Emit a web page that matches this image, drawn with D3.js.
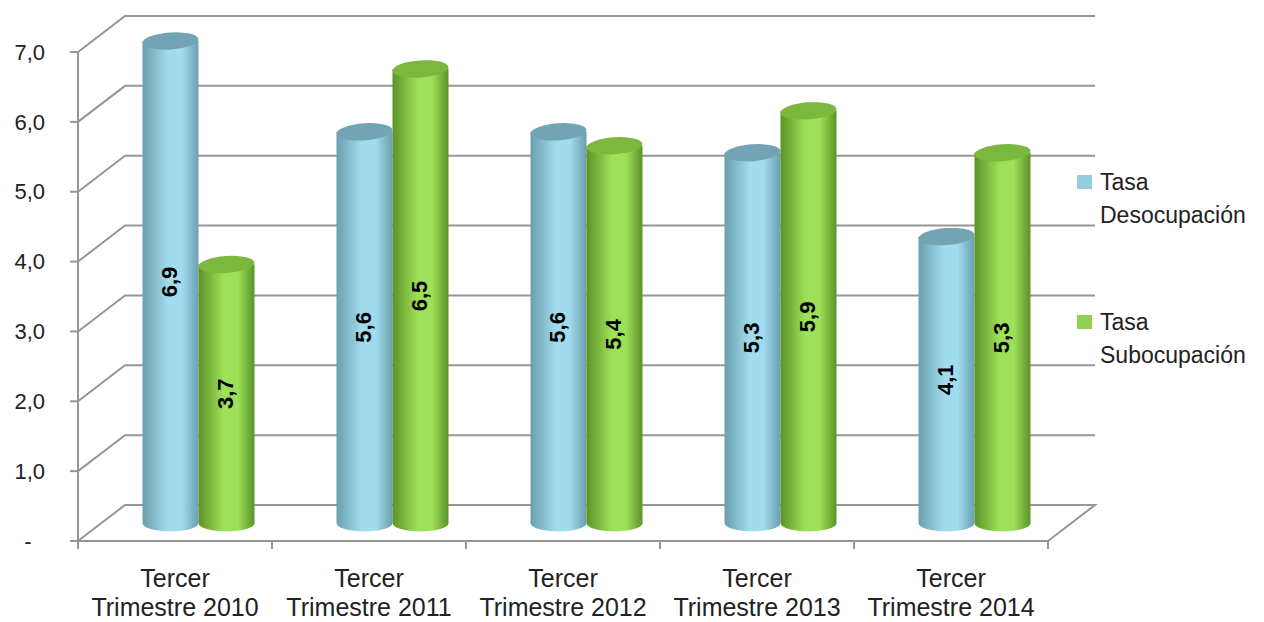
<!DOCTYPE html>
<html>
<head>
<meta charset="utf-8">
<script src="https://cdn.jsdelivr.net/npm/d3@7"></script>
<style>
  body { margin: 0; background: #fff; }
</style>
</head>
<body>
<div id="chart"></div>
<script>
var w = 1264;
var h = 622;

var categories = ["2010", "2011", "2012", "2013", "2014"];
var seriesNames = ["Tasa Desocupación", "Tasa Subocupación"];
var desocupacion = [6.9, 5.6, 5.6, 5.3, 4.1];
var subocupacion = [3.7, 6.5, 5.4, 5.9, 5.3];
var yTicks = [0, 1, 2, 3, 4, 5, 6, 7];

var font = "Liberation Sans, Arial, sans-serif";
var gridColor = "#969696";
var depthX = 47;
var depthY = -36;

var svg = d3.select("#chart")
    .append("svg")
    .attr("width", w)
    .attr("height", h)
    .style("background-color", "white");

var yScale = d3.scaleLinear()
    .domain([0, 7])
    .range([541, 52]);

var xScale = d3.scaleBand()
    .domain(categories)
    .range([78, 1048]);

var xSub = d3.scaleBand()
    .domain(seriesNames)
    .range([-56, 56]);

var colors = {
    "Tasa Desocupación": { dark: "#6a9fae", light: "#a0dbee", top: "#73a4b3", key: "#93cddd" },
    "Tasa Subocupación": { dark: "#5c9327", light: "#9ee158", top: "#7cb83e", key: "#92d050" }
};

// gradients for cylinder bodies
var defs = svg.append("defs");
seriesNames.forEach(function (s, i) {
    var g = defs.append("linearGradient")
        .attr("id", "grad" + i)
        .attr("x1", "0%").attr("x2", "100%")
        .attr("y1", "0%").attr("y2", "0%");
    g.append("stop").attr("offset", "0%").attr("stop-color", colors[s].dark);
    g.append("stop").attr("offset", "45%").attr("stop-color", colors[s].light);
    g.append("stop").attr("offset", "70%").attr("stop-color", colors[s].light);
    g.append("stop").attr("offset", "100%").attr("stop-color", colors[s].dark);
});

var x0 = xScale.range()[0];
var x1 = xScale.range()[1];

// back wall gridlines + left wall diagonals
var grid = svg.append("g");
yTicks.forEach(function (t) {
    var y = yScale(t);
    var pts = t === 0
        ? [[x0, y], [x0 + depthX, y + depthY], [x1 + depthX, y + depthY], [x1, y]]
        : [[x0, y], [x0 + depthX, y + depthY], [x1 + depthX, y + depthY]];
    grid.append("path")
        .attr("d", d3.line()(pts))
        .attr("fill", "none")
        .attr("stroke", gridColor)
        .attr("stroke-width", 2);
});

// front axes
svg.append("line")
    .attr("x1", x0).attr("x2", x0)
    .attr("y1", yScale(7)).attr("y2", yScale(0))
    .attr("stroke", gridColor).attr("stroke-width", 2);
svg.append("line")
    .attr("x1", x0).attr("x2", x1)
    .attr("y1", yScale(0)).attr("y2", yScale(0))
    .attr("stroke", gridColor).attr("stroke-width", 2);

// y tick marks and labels
yTicks.forEach(function (t) {
    svg.append("line")
        .attr("x1", x0 - 8).attr("x2", x0)
        .attr("y1", yScale(t)).attr("y2", yScale(t))
        .attr("stroke", gridColor).attr("stroke-width", 2);
    svg.append("text")
        .attr("x", t === 0 ? 28 : 45)
        .attr("y", yScale(t))
        .attr("dy", "0.35em")
        .attr("text-anchor", t === 0 ? "middle" : "end")
        .attr("font-family", font)
        .attr("font-size", "22px")
        .attr("fill", "#222")
        .text(t === 0 ? "-" : d3.format(".1f")(t).replace(".", ","));
});

// x tick marks
var xEdges = categories.map(function (c) { return xScale(c); }).concat([x1]);
xEdges.forEach(function (x) {
    svg.append("line")
        .attr("x1", x).attr("x2", x)
        .attr("y1", yScale(0)).attr("y2", yScale(0) + 8)
        .attr("stroke", gridColor).attr("stroke-width", 2);
});

// x labels
categories.forEach(function (c) {
    var cx = xScale(c) + xScale.bandwidth() / 2;
    var t = svg.append("text")
        .attr("x", cx)
        .attr("text-anchor", "middle")
        .attr("font-family", font)
        .attr("font-size", "25px")
        .attr("fill", "#222");
    t.append("tspan").attr("x", cx).attr("y", 587).text("Tercer");
    t.append("tspan").attr("x", cx).attr("y", 616).text("Trimestre " + c);
});

// cylinders
var rows = [];
categories.forEach(function (c, i) {
    rows.push({ cat: c, series: seriesNames[0], si: 0, value: desocupacion[i] });
    rows.push({ cat: c, series: seriesNames[1], si: 1, value: subocupacion[i] });
});

var ry = 8.5;
var bars = svg.append("g").selectAll("g")
    .data(rows)
    .join("g");

bars.each(function (d) {
    var g = d3.select(this);
    var left = xScale(d.cat) + xScale.bandwidth() / 2 + depthX / 2 + xSub(d.series);
    var bw = xSub.bandwidth();
    var rx = bw / 2;
    var cx = left + rx;
    var yTop = yScale(d.value) + depthY / 2;
    var yBot = yScale(0) + depthY / 2;

    var body = "M" + left + "," + yTop +
        "L" + left + "," + yBot +
        "A" + rx + "," + ry + " 0 0 0 " + (left + bw) + "," + yBot +
        "L" + (left + bw) + "," + yTop + "Z";
    g.append("path")
        .attr("d", body)
        .attr("fill", "url(#grad" + d.si + ")");
    g.append("ellipse")
        .attr("cx", cx).attr("cy", yTop)
        .attr("rx", rx).attr("ry", ry)
        .attr("transform", "rotate(-4," + cx + "," + yTop + ")")
        .attr("fill", colors[d.series].top);

    g.append("text")
        .attr("transform", "translate(" + (cx + 6) + "," + ((yTop + yBot) / 2) + ") rotate(-90)")
        .attr("text-anchor", "middle")
        .attr("font-family", font)
        .attr("font-weight", "bold")
        .attr("font-size", "22px")
        .attr("fill", "black")
        .text(d3.format(".1f")(d.value).replace(".", ","));
});

// legend
seriesNames.forEach(function (s, i) {
    var ly = 175 + i * 140;
    svg.append("rect")
        .attr("x", 1077).attr("y", ly)
        .attr("width", 15).attr("height", 14)
        .attr("fill", colors[s].key);
    var parts = s.split(" ");
    svg.append("text")
        .attr("x", 1100).attr("y", ly + 15)
        .attr("font-family", font)
        .attr("font-size", "23px")
        .attr("fill", "#222")
        .text(parts[0]);
    svg.append("text")
        .attr("x", 1100).attr("y", ly + 48)
        .attr("font-family", font)
        .attr("font-size", "23px")
        .attr("fill", "#222")
        .text(parts[1]);
});
</script>
</body>
</html>
